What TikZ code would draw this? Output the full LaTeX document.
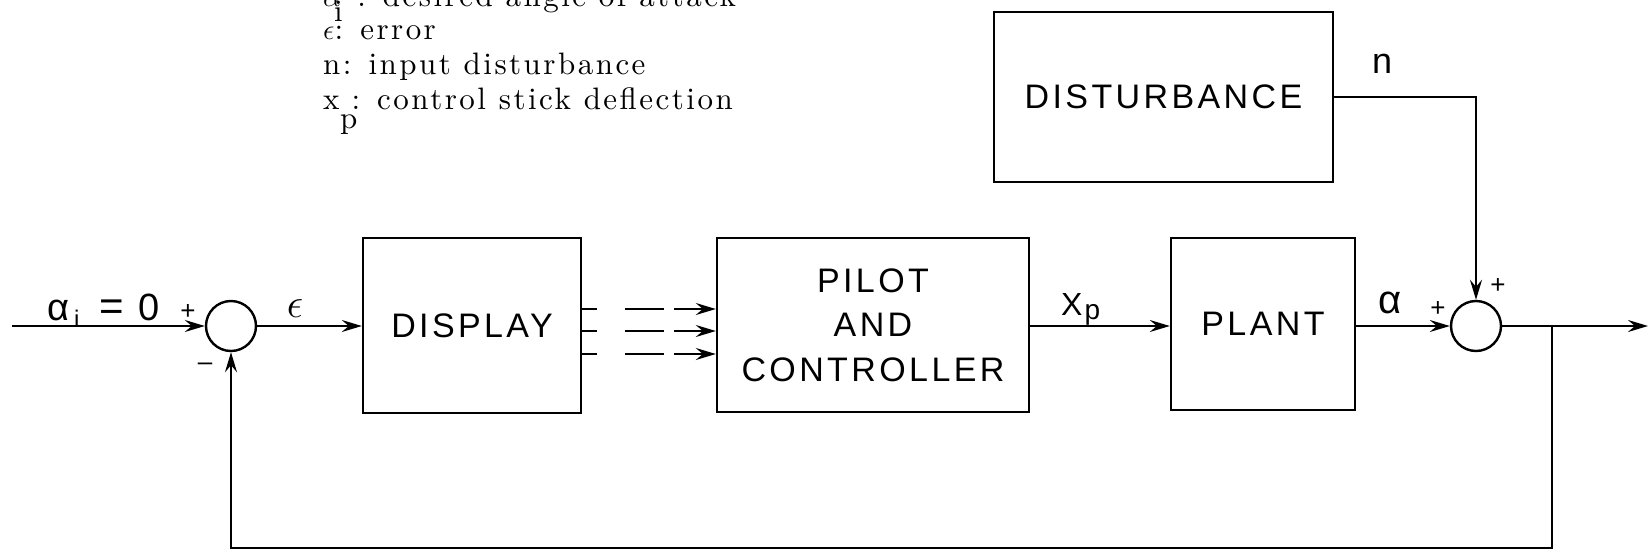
\documentclass[tikz,border=0pt]{standalone}
\usepackage{fontspec}
\newfontfamily\lr{Liberation Sans}[LetterSpace=10]
\newfontfamily\lrn{Liberation Sans}
\newfontfamily\legfont{lmroman10-regular.otf}[LetterSpace=8]
\usetikzlibrary{arrows.meta}
\begin{document}
\begin{tikzpicture}[x=0.5pt,y=-0.5pt,line width=1.2pt,
  arr/.style={-{Stealth[length=10pt,width=6pt,inset=3.5pt]}},
  box/.style={draw,inner sep=0pt,align=center,font=\lr\fontsize{17}{22.3}\selectfont},
  sumj/.style={draw,circle,minimum size=25pt,inner sep=0pt},
  lbl/.style={inner sep=0pt,font=\lrn\fontsize{16}{16}\selectfont},
  sgn/.style={inner sep=0pt,font=\lrn\fontsize{13}{13}\selectfont},
  leg/.style={inner sep=0pt,anchor=base west,font=\legfont\fontsize{15.5}{18}\selectfont},
  dashpat/.style={dash pattern=on 7.5pt off 14pt on 19.5pt off 5pt on 40pt}]
\fill[white] (0,0) rectangle (1649,552);
\useasboundingbox (0,0) rectangle (1649,552);

% legend
\node[leg] (l1) at (322,6) {$\alpha$\kern8pt: desired angle of attack};
\node[leg] (l1s) at (333,21) {i};
\node[leg] (l2) at (322,39) {$\epsilon$: error};
\node[leg] (l3) at (322,74) {n: input disturbance};
\node[leg] (l4) at (322,109) {x\kern6pt: control stick deflection};
\node[leg] (l4s) at (339,128) {p};

% blocks
\node[box,minimum width=109pt,minimum height=87.5pt] (disp) at (472,325.5) {DISPLAY};
\node[box,minimum width=156pt,minimum height=87pt] (pilot) at (873,325) {PILOT\\AND\\CONTROLLER};
\node[box,minimum width=92pt,minimum height=86pt] (plant) at (1263,324) {PLANT};
\node[box,minimum width=169.5pt,minimum height=85pt] (dist) at (1163.5,97) {DISTURBANCE};
\node[sumj] (s1) at (231,326) {};
\node[sumj] (s2) at (1476,326) {};

% coordinates
\coordinate (in) at (12,326);
\coordinate (out) at (1648,326);
\coordinate (br) at (1552,326);
\coordinate (fb) at (1552,548);
\coordinate (d1) at (0,309);
\coordinate (d2) at (0,331);
\coordinate (d3) at (0,354);

% connectors
\draw[arr] (in) -- (s1.west);
\draw[arr] (s1.east) -- (s1.east -| disp.west);
\draw[arr,dashpat] (disp.east |- d1) -- (pilot.west |- d1);
\draw[arr,dashpat] (disp.east |- d2) -- (pilot.west |- d2);
\draw[arr,dashpat] (disp.east |- d3) -- (pilot.west |- d3);
\draw[arr] (pilot.east |- s1) -- (plant.west |- s1);
\draw[arr] (plant.east |- s2) -- (s2.west);
\draw[arr] (dist.east) -| (s2.north);
\draw[arr] (s2.east) -- (out);
\draw[arr] (br) -- (fb) -| (s1.south);

% labels
\node[lbl,anchor=base west,font=\lrn\fontsize{19}{19}\selectfont] (ai) at (46,320) {α\kern2.5pt\raisebox{-3.5pt}{\fontsize{12}{12}\selectfont i}\kern10pt{\fontsize{21}{21}\selectfont=}\kern7pt0};
\node[sgn] (p1) at (188,312) {+};
\node[sgn] (m1) at (205,367) {\textendash};
\node[lbl,font=\fontsize{22}{22}\selectfont] (eps) at (295,309) {$\epsilon$};
\node[lbl,anchor=base west] (xp) at (1060,315) {X\kern1pt\raisebox{-2pt}{\fontsize{14}{14}\selectfont p}};
\node[lbl,font=\lrn\fontsize{20}{20}\selectfont] (al) at (1390,303) {α};
\node[sgn] (p2) at (1438,309) {+};
\node[sgn] (p3) at (1498,286) {+};
\node[lbl,font=\lrn\fontsize{18}{18}\selectfont] (nl) at (1382,64) {n};
\end{tikzpicture}
\end{document}
